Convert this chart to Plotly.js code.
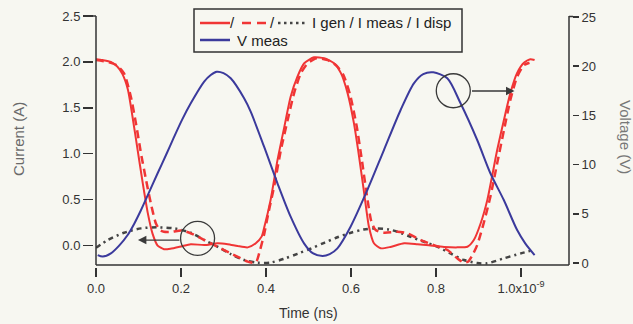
<!DOCTYPE html>
<html>
<head>
<meta charset="utf-8">
<script src="https://cdn.plot.ly/plotly-3.0.1.min.js"></script>
<style>
  html, body { margin: 0; padding: 0; background: #f7f7f1; }
  #chart { width: 633px; height: 324px; }
</style>
</head>
<body>
<div id="chart"></div>
<script>
// Time axis in ns
const tGen = [0.000, 0.015, 0.035, 0.050, 0.062, 0.075, 0.086, 0.098, 0.110, 0.122, 0.133, 0.145, 0.160, 0.175, 0.200, 0.223, 0.255, 0.286, 0.310, 0.333, 0.357, 0.376, 0.390, 0.3955, 0.411, 0.427, 0.443, 0.458, 0.474, 0.490, 0.513, 0.537, 0.560, 0.576, 0.592, 0.607, 0.619, 0.631, 0.642, 0.654, 0.670, 0.693, 0.725, 0.756, 0.787, 0.819, 0.850, 0.874, 0.889, 0.905, 0.921, 0.944, 0.960, 0.975, 0.991, 1.007, 1.022, 1.032];
const iGen = [2.03, 2.02, 2.00, 1.95, 1.87, 1.70, 1.40, 1.04, 0.68, 0.35, 0.13, 0.00, -0.04, -0.035, -0.01, 0.015, 0.005, 0.025, 0.015, -0.005, -0.02, 0.025, 0.10, 0.19, 0.50, 0.93, 1.29, 1.62, 1.84, 1.985, 2.05, 2.04, 1.985, 1.88, 1.66, 1.33, 0.97, 0.57, 0.21, 0.025, -0.03, -0.015, 0.025, 0.015, 0.0, -0.015, -0.02, -0.013, 0.06, 0.24, 0.50, 1.04, 1.37, 1.66, 1.88, 1.99, 2.03, 2.02];

const tMeas = [0.000, 0.015, 0.035, 0.050, 0.066, 0.082, 0.094, 0.106, 0.118, 0.129, 0.141, 0.150, 0.160, 0.180, 0.200, 0.223, 0.255, 0.286, 0.317, 0.341, 0.357, 0.372, 0.378, 0.386, 0.396, 0.405, 0.419, 0.435, 0.451, 0.466, 0.482, 0.498, 0.519, 0.545, 0.566, 0.582, 0.598, 0.613, 0.625, 0.637, 0.648, 0.658, 0.678, 0.709, 0.733, 0.764, 0.795, 0.827, 0.850, 0.866, 0.876, 0.884, 0.897, 0.913, 0.928, 0.944, 0.960, 0.975, 0.991, 1.007, 1.020];
const iMeas = [2.02, 2.01, 1.99, 1.96, 1.876, 1.62, 1.33, 1.00, 0.71, 0.46, 0.24, 0.17, 0.15, 0.15, 0.165, 0.133, 0.06, -0.013, -0.085, -0.14, -0.176, -0.19, -0.17, -0.05, 0.13, 0.34, 0.64, 1.04, 1.367, 1.658, 1.876, 1.985, 2.04, 2.02, 1.96, 1.86, 1.64, 1.31, 0.95, 0.56, 0.26, 0.17, 0.14, 0.15, 0.133, 0.06, 0.005, -0.049, -0.139, -0.187, -0.175, -0.12, 0.005, 0.256, 0.532, 0.895, 1.258, 1.585, 1.839, 1.966, 1.991];

const tDisp = [0.000, 0.028, 0.066, 0.106, 0.145, 0.184, 0.223, 0.255, 0.286, 0.317, 0.349, 0.380, 0.411, 0.442, 0.474, 0.505, 0.537, 0.568, 0.600, 0.630, 0.660, 0.690, 0.709, 0.740, 0.772, 0.803, 0.834, 0.866, 0.897, 0.920, 0.960, 1.000, 1.030];
const iDisp = [-0.025, 0.06, 0.139, 0.187, 0.198, 0.187, 0.139, 0.06, -0.013, -0.093, -0.158, -0.187, -0.185, -0.145, -0.09, -0.035, 0.03, 0.09, 0.14, 0.175, 0.187, 0.175, 0.15, 0.096, 0.041, -0.013, -0.085, -0.158, -0.19, -0.194, -0.139, -0.085, -0.049];

const tV = [0.004, 0.016, 0.035, 0.055, 0.0745, 0.090, 0.106, 0.125, 0.145, 0.165, 0.184, 0.203, 0.223, 0.2545, 0.270, 0.284, 0.300, 0.317, 0.3485, 0.364, 0.3955, 0.427, 0.458, 0.4895, 0.510, 0.533, 0.550, 0.568, 0.599, 0.6385, 0.6775, 0.7168, 0.748, 0.770, 0.7937, 0.8266, 0.8578, 0.897, 0.928, 0.9596, 0.991, 1.010, 1.032];
const vMeas = [0.81, 0.66, 0.99, 1.8, 2.85, 4.0, 5.39, 7.2, 9.12, 11.0, 12.84, 14.6, 16.23, 18.43, 19.1, 19.44, 19.3, 18.77, 16.74, 15.38, 11.82, 8.10, 4.71, 2.00, 1.0, 0.71, 0.9, 1.49, 3.69, 7.42, 11.48, 15.55, 18.26, 19.2, 19.38, 18.77, 16.23, 12.5, 9.12, 6.40, 3.35, 2.0, 0.81];

// Tick labels
const timeTicks = [0, 0.2, 0.4, 0.6, 0.8, 1.0];
const timeTickText = ['0.0', '0.2', '0.4', '0.6', '0.8', '1.0x10<sup>-9</sup>'];
const currentTicks = [0, 0.5, 1.0, 1.5, 2.0, 2.5];
const voltageTicks = [0, 5, 10, 15, 20, 25];

const BG = '#f7f7f1';
const AXIS = '#333333';
const RED = '#f03535';
const BLUE = '#3b3a9c';
const GREY = '#444444';
const FONT = 'Liberation Sans, Arial, Helvetica, sans-serif';

// plot area in page pixels: x 93..572, y 16..267
const L = 93, R = 572, T = 16, B = 267;
const px = v => (v - L) / (R - L);
const py = v => (B - v) / (B - T);

const traces = [
  { x: tDisp, y: iDisp, yaxis: 'y', mode: 'lines',
    line: { color: GREY, width: 2.5, dash: '5px,4px,2px,4px', shape: 'spline', smoothing: 0.8 } },
  { x: tGen, y: iGen, yaxis: 'y', mode: 'lines',
    line: { color: RED, width: 2, shape: 'spline', smoothing: 0.6 } },
  { x: tMeas, y: iMeas, yaxis: 'y', mode: 'lines',
    line: { color: RED, width: 2.5, dash: '8px,5px', shape: 'spline', smoothing: 0.6 } },
  { x: tV, y: vMeas, yaxis: 'y2', mode: 'lines',
    line: { color: BLUE, width: 2, shape: 'spline', smoothing: 0.8 } }
];

const frame = { color: AXIS, width: 1.5 };
const shapes = [
  // axis frame
  { type: 'line', xref: 'x domain', yref: 'y domain', x0: 0, x1: 0, y0: 0, y1: 1, line: frame },
  { type: 'line', xref: 'x domain', yref: 'y domain', x0: 0, x1: 1, y0: 0, y1: 0, line: frame },
  { type: 'line', xref: 'x domain', yref: 'y domain', x0: 1, x1: 1, y0: 0, y1: 1, line: frame },
  { type: 'line', xref: 'paper', yref: 'paper', x0: px(92), x1: px(96), y0: py(16), y1: py(16), line: frame },
  { type: 'line', xref: 'paper', yref: 'paper', x0: px(569), x1: px(573), y0: py(16.5), y1: py(16.5), line: frame },
  // callout circles
  { type: 'circle', xref: 'x', yref: 'y', xsizemode: 'pixel', ysizemode: 'pixel',
    xanchor: 0.239, yanchor: 0.078, x0: -17, x1: 17, y0: -17, y1: 17,
    line: { color: '#3a3a3a', width: 1.3 } },
  { type: 'circle', xref: 'x', yref: 'y', xsizemode: 'pixel', ysizemode: 'pixel',
    xanchor: 0.8407, yanchor: 1.686, x0: -17, x1: 17, y0: -17, y1: 17,
    line: { color: '#3a3a3a', width: 1.3 } },
  // legend box
  { type: 'rect', xref: 'paper', yref: 'paper', x0: px(194), x1: px(462), y0: py(52), y1: py(9),
    line: { color: AXIS, width: 1.5 }, fillcolor: BG },
  // legend samples
  { type: 'line', xref: 'paper', yref: 'paper', x0: px(200), x1: px(230), y0: py(23), y1: py(23),
    line: { color: RED, width: 2.5 } },
  { type: 'line', xref: 'paper', yref: 'paper', x0: px(242), x1: px(268), y0: py(23), y1: py(23),
    line: { color: RED, width: 2.5, dash: '9px,6px' } },
  { type: 'line', xref: 'paper', yref: 'paper', x0: px(278), x1: px(306), y0: py(23), y1: py(23),
    line: { color: GREY, width: 2.5, dash: '2.5px,3.5px' } },
  { type: 'line', xref: 'paper', yref: 'paper', x0: px(200), x1: px(230), y0: py(40), y1: py(40),
    line: { color: BLUE, width: 2.5 } }
];

const legendFont = { family: FONT, size: 15, color: '#222' };
const annotations = [
  { xref: 'paper', yref: 'paper', x: px(232), y: py(23), text: '/', showarrow: false, font: legendFont, xanchor: 'center', yanchor: 'middle' },
  { xref: 'paper', yref: 'paper', x: px(272), y: py(23), text: '/', showarrow: false, font: legendFont, xanchor: 'center', yanchor: 'middle' },
  { xref: 'paper', yref: 'paper', x: px(310), y: py(23), text: 'I gen / I meas / I disp', showarrow: false, font: legendFont, xanchor: 'left', yanchor: 'middle' },
  { xref: 'paper', yref: 'paper', x: px(235), y: py(40), text: 'V meas', showarrow: false, font: legendFont, xanchor: 'left', yanchor: 'middle' },
  // axis titles
  { xref: 'paper', yref: 'paper', x: px(18), y: py(139), text: 'Current (A)', textangle: -90, showarrow: false,
    font: { family: FONT, size: 15, color: '#6a6a6a' }, xanchor: 'center', yanchor: 'middle' },
  { xref: 'paper', yref: 'paper', x: px(626), y: py(137), text: 'Voltage (V)', textangle: 90, showarrow: false,
    font: { family: FONT, size: 15, color: '#777' }, xanchor: 'center', yanchor: 'middle' },
  { xref: 'paper', yref: 'paper', x: px(308), y: py(313), text: 'Time (ns)', showarrow: false,
    font: { family: FONT, size: 14, color: '#333' }, xanchor: 'center', yanchor: 'middle' },
  // callout arrows
  { xref: 'x', yref: 'y', x: 0.0987, y: 0.06, ax: 43, ay: 0, text: '', showarrow: true,
    arrowhead: 2, arrowsize: 1.3, arrowwidth: 1.3, arrowcolor: '#3a3a3a', standoff: 0 },
  { xref: 'x', yref: 'y', x: 0.9847, y: 1.683, ax: -44, ay: 0, text: '', showarrow: true,
    arrowhead: 2, arrowsize: 1.3, arrowwidth: 1.3, arrowcolor: '#3a3a3a', standoff: 0 }
];

const tickFont = { family: FONT, size: 13, color: '#333' };
const layout = {
  width: 633, height: 324,
  margin: { l: L, r: 633 - R, t: T, b: 324 - B, pad: 0 },
  paper_bgcolor: BG, plot_bgcolor: BG,
  showlegend: false,
  xaxis: {
    domain: [px(96), px(569)], range: [0, 1.113],
    anchor: 'free', position: 0,
    tickmode: 'array', tickvals: timeTicks, ticktext: timeTickText,
    ticks: 'outside', ticklen: 9, tickwidth: 1.5, tickcolor: AXIS,
    showline: false, showgrid: false, zeroline: false, tickfont: tickFont
  },
  yaxis: {
    domain: [py(265), 1], range: [-0.212, 2.5],
    anchor: 'free', position: 0,
    tickmode: 'array', tickvals: currentTicks, tickformat: '.1f',
    ticks: 'outside', ticklen: 10, tickwidth: 1.5, tickcolor: AXIS,
    showline: false, showgrid: false, zeroline: false, tickfont: tickFont
  },
  yaxis2: {
    overlaying: 'y', side: 'right', range: [-0.2, 25.1],
    anchor: 'free', position: 1,
    tickmode: 'array', tickvals: voltageTicks,
    ticks: 'outside', ticklen: 6, tickwidth: 1.5, tickcolor: AXIS,
    showline: false, showgrid: false, zeroline: false, tickfont: tickFont
  },
  shapes: shapes,
  annotations: annotations
};

Plotly.newPlot('chart', traces, layout, { displayModeBar: false, staticPlot: true });
</script>
</body>
</html>
